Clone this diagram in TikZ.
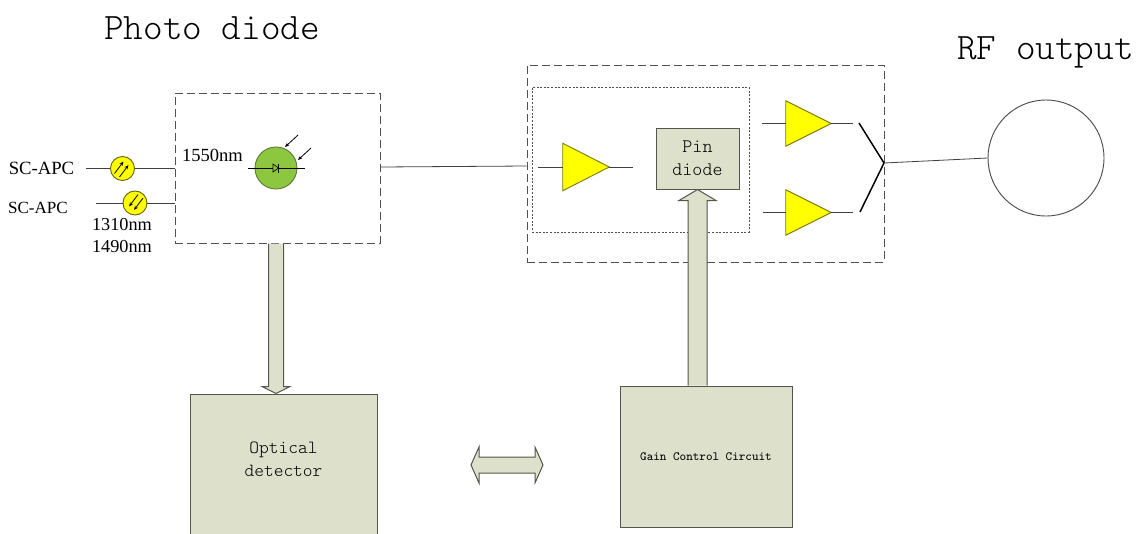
\documentclass[tikz,border=0pt]{standalone}
\usepackage{fontspec}
\setmainfont{Liberation Serif}
\newfontfamily\cnmono{Latin Modern Mono Light}
\usetikzlibrary{calc,arrows.meta}
\definecolor{boxfill}{RGB}{221,224,202}
\definecolor{boxline}{RGB}{85,85,75}
\definecolor{ampfill}{RGB}{255,255,0}
\definecolor{ampline}{RGB}{125,125,20}
\definecolor{pdgreen}{RGB}{141,198,63}
\definecolor{pdline}{RGB}{95,120,60}
\definecolor{dashc}{RGB}{80,80,80}
\begin{document}
\begin{tikzpicture}[x=0.75pt,y=-0.75pt,
  dbox/.style={draw=dashc,line width=0.75pt,dash pattern=on 6pt off 3pt,minimum width=#1},
  dotbox/.style={draw=dashc,line width=0.6pt,dash pattern=on 1.5pt off 1.2pt},
  gbox/.style={draw=boxline,fill=boxfill,line width=0.75pt,inner sep=0pt},
  ampbox/.style={inner sep=0pt,minimum width=46*0.75pt,minimum height=47*0.75pt},
  amp/.style={draw=ampline,fill=ampfill,line width=0.7pt},
  wire/.style={draw=black!75,line width=0.6pt},
  barrow/.style={draw=boxline,fill=boxfill,line width=0.75pt,line join=miter},
  fiber/.style={circle,draw=ampline!80!black,fill=ampfill,line width=0.7pt,minimum size=24*0.75pt,inner sep=0pt},
  farrow/.style={black,line width=0.6pt,-{Stealth[length=3.2pt,width=2.6pt]}},
  lbl/.style={inner sep=0pt},
]
\useasboundingbox (0,0) rectangle (1147,533);

% titles
\node[lbl,font=\cnmono\fontsize{28}{33}\selectfont] (t1) at (212,28) {Photo diode};
\node[lbl,font=\cnmono\fontsize{28}{33}\selectfont] (t2) at (1045.5,52) {RF output};

% photodiode dashed box
\node[dbox=205*0.75pt,minimum height=150*0.75pt] (pdbox) at (277.5,168) {};
% amplifier module boxes
\node[dbox=357*0.75pt,minimum height=197*0.75pt] (outer) at (705.5,163.5) {};
\node[dotbox,minimum width=217*0.75pt,minimum height=145*0.75pt] (inner) at (640.5,159.5) {};

% connectors on the left
\node[lbl,font=\fontsize{14}{16}\selectfont] (sc1) at (41.5,168) {SC-APC};
\node[lbl,font=\fontsize{12.8}{15}\selectfont] (sc2) at (38,208) {SC-APC};
\node[fiber] (fc1) at (122.5,168.5) {};
\node[fiber] (fc2) at (135,203) {};
\coordinate (w1) at (86,168.5);
\coordinate (w2) at (96,203);
\draw[wire] (w1) -- (fc1.west);
\draw[wire] (fc1.east) -- (pdbox.west |- fc1.east);
\draw[wire] (w2) -- (fc2.west);
\draw[wire] (fc2.east) -- (pdbox.west |- fc2.east);
\draw[farrow] ($(fc1)+(-8,5)$) -- ($(fc1)+(1,-7)$);
\draw[farrow] ($(fc1)+(-3,8.5)$) -- ($(fc1)+(6,-3.5)$);
\draw[farrow] ($(fc2)+(8,-5)$) -- ($(fc2)+(-1,7)$);
\draw[farrow] ($(fc2)+(3,-8.5)$) -- ($(fc2)+(-6,3.5)$);
\node[lbl,font=\fontsize{13.7}{16.5}\selectfont,align=center] (nm2) at (122,236) {1310nm\\1490nm};
\node[lbl,font=\fontsize{13.9}{16}\selectfont] (nm1) at (212.5,155) {1550nm};

% photo diode symbol
\node[circle,draw=pdline,fill=pdgreen,line width=0.7pt,minimum size=42*0.75pt,inner sep=0pt] (pd) at (276,168) {};
\coordinate (pdl) at (248,168);
\coordinate (pdr) at (305,168);
\draw[black,line width=0.6pt] (pdl) -- (pdr);
\draw[black,line width=0.5pt,fill=pdgreen] ($(pd)+(-3,-4)$) -- ($(pd)+(2.5,0)$) -- ($(pd)+(-3,4)$) -- cycle;
\draw[black,line width=0.6pt] ($(pd)+(2.8,-4.5)$) -- ($(pd)+(2.8,4.5)$);
\draw[farrow] ($(pd)+(22,-33)$) -- ($(pd)+(9,-21)$);
\draw[farrow] ($(pd)+(35,-20)$) -- ($(pd)+(22,-8)$);

% link from photodiode box to amplifier module
\draw[wire] ($(pdbox.east)+(0,-1)$) -- ($(outer.west)+(0,2.5)$);

% amplifiers
\node[ampbox] (a1) at (586,167) {};
\node[ampbox,minimum width=45*0.75pt,minimum height=45*0.75pt] (a2) at (808.5,123.5) {};
\node[ampbox,minimum width=45*0.75pt,minimum height=45*0.75pt] (a3) at (808.5,212.5) {};
\foreach \a in {a1,a2,a3}{
  \draw[amp] (\a.north west) -- (\a.east) -- (\a.south west) -- cycle;
}
\coordinate (a1i) at (538,167);
\coordinate (a1o) at (633,167);
\coordinate (a2i) at (762,123.5);
\coordinate (a2o) at (853,123.5);
\coordinate (a3i) at (763,212.5);
\coordinate (a3o) at (853,212.5);
\draw[wire] (a1i) -- (a1.west);
\draw[wire] (a1.east) -- (a1o);
\draw[wire] (a2i) -- (a2.west);
\draw[wire] (a2.east) -- (a2o);
\draw[wire] (a3i) -- (a3.west);
\draw[wire] (a3.east) -- (a3o);

% combiner
\coordinate (cu) at (859,123);
\coordinate (cd) at (860,212);
\coordinate (cj) at (884,163);
\draw[black,line width=1.1pt] (cu) -- (cj) -- (cd);

% RF output port
\node[circle,draw=black!70,line width=0.7pt,minimum size=116*0.75pt,inner sep=0pt] (rf) at (1046,158) {};
\draw[wire] (cj) -- (rf.west);

% pin diode
\node[gbox,minimum width=83*0.75pt,minimum height=61*0.75pt,align=center,
      font=\cnmono\fontsize{14.3}{17.2}\selectfont] (pin) at (697.5,158.5) {Pin\\diode};

% lower boxes
\node[gbox,minimum width=187*0.75pt,minimum height=150*0.75pt] (det) at (283.5,469) {};
\node[lbl,align=center,font=\cnmono\fontsize{13.9}{17.2}\selectfont] (dett) at (283.5,459.5) {Optical\\detector};
\node[gbox,minimum width=172*0.75pt,minimum height=141*0.75pt,
      font=\ttfamily\fontsize{9.4}{11}\selectfont] (gain) at (706,456.5) {Gain Control Circuit};

% block arrow: photodiode box -> optical detector
\coordinate (dA) at ($(pdbox.south)+(-1.5,0)$);
\coordinate (dB) at (dA |- det.north);
\draw[barrow] ($(dA)+(-7.5,0)$) -- ($(dB)+(-7.5,-7)$) -- ($(dB)+(-14,-7)$) -- (dB)
  -- ($(dB)+(14,-7)$) -- ($(dB)+(7.5,-7)$) -- ($(dA)+(7.5,0)$);

% block arrow: gain control -> pin diode
\coordinate (uB) at (pin.south);
\coordinate (uA) at (uB |- gain.north);
\draw[barrow] ($(uA)+(-9.5,0)$) -- ($(uB)+(-9.5,11)$) -- ($(uB)+(-18.5,11)$) -- (uB)
  -- ($(uB)+(18.5,11)$) -- ($(uB)+(9.5,11)$) -- ($(uA)+(9.5,0)$);

% double block arrow between detector and gain control
\coordinate (hL) at (471,465);
\coordinate (hR) at (543,465);
\draw[barrow] (hL) -- ($(hL)+(8,-18)$) -- ($(hL)+(8,-8)$) -- ($(hR)+(-8,-8)$) -- ($(hR)+(-8,-18)$)
  -- (hR) -- ($(hR)+(-8,18)$) -- ($(hR)+(-8,8)$) -- ($(hL)+(8,8)$) -- ($(hL)+(8,18)$) -- cycle;
\end{tikzpicture}
\end{document}
